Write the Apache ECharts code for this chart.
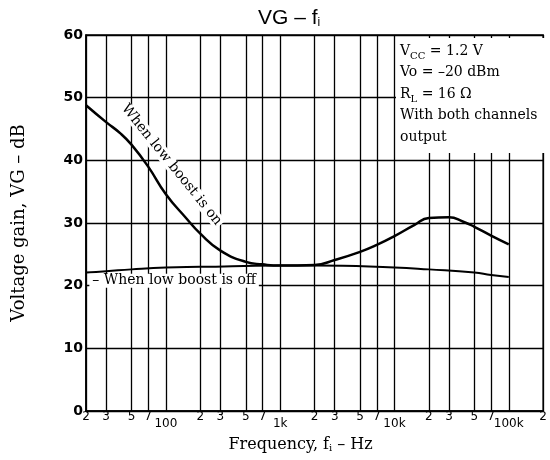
<!DOCTYPE html>
<html><head><meta charset="utf-8">
<script src="https://cdn.jsdelivr.net/npm/echarts@6/dist/echarts.min.js"></script>
<style>html,body{margin:0;padding:0;background:#fff}#c{width:550px;height:460px}</style>
</head><body><div id="c"></div>
<script>
const xTicks = [20,30,50,70,100,200,300,500,700,1000,2000,3000,5000,7000,10000,20000,30000,50000,70000,100000,200000];
const xTickLabels = ['2','3','5','7','100','2','3','5','7','1k','2','3','5','7','10k','2','3','5','7','100k','2'];
const yTicks = [0,10,20,30,40,50,60];
const freqOn = [20,30,40,50,70,100,150,200,300,500,700,1000,2000,3000,5000,7000,10000,15000,20000,30000,40000,50000,70000,100000];
const gainOn = [48.8,46.1,44.3,42.5,39.0,34.6,30.8,28.3,25.6,23.8,23.4,23.2,23.3,24.1,25.4,26.5,27.9,29.7,30.8,30.9,30.2,29.4,28.0,26.6];
const freqOff = [20,30,50,100,200,1000,2000,10000,20000,50000,70000,100000];
const gainOff = [22.1,22.3,22.6,22.9,23.0,23.2,23.2,22.9,22.6,22.1,21.7,21.4];
const labelOn = 'When low boost is on';
const labelOff = '– When low boost is off';

const serif = '"DejaVu Serif", "Liberation Serif", serif';
const sans = '"DejaVu Sans", "Liberation Sans", sans-serif';

function tickLabel(v) {
  for (let i = 0; i < xTicks.length; i++) {
    if (Math.abs(Math.log10(v) - Math.log10(xTicks[i])) < 1e-6) {
      const t = xTickLabels[i];
      return t.length > 1 ? '{d|' + t + '}' : '{n|' + t + '}';
    }
  }
  return '';
}

const chart = echarts.init(document.getElementById('c'), null, {renderer: 'canvas'});
chart.setOption({
  animation: false,
  backgroundColor: '#fff',
  title: {
    text: '{a|VG – f}{b|i}',
    left: 253, top: 3,
    textStyle: {
      rich: {
        a: {fontFamily: '"Liberation Sans", Arial, sans-serif', fontSize: 21, fontWeight: 'normal', color: '#000'},
        b: {fontFamily: '"Liberation Sans", Arial, sans-serif', fontSize: 12, fontWeight: 'normal', color: '#000', verticalAlign: 'bottom', padding: [9, 0, 0, 0]}
      }
    }
  },
  grid: {left: 86, right: 3, top: 35, bottom: 49, show: true, borderColor: '#000', borderWidth: 1.5, containLabel: false},
  xAxis: {
    type: 'log', logBase: 10, min: 20, max: 200000,
    name: '{n|Frequency, f}{s|i}{n| – Hz}',
    nameLocation: 'middle', nameGap: 25,
    nameTextStyle: {
      padding: [0, 28, 0, 0],
      rich: {
        n: {fontFamily: serif, fontSize: 16, color: '#000'},
        s: {fontFamily: serif, fontSize: 10, color: '#000', verticalAlign: 'bottom', padding: [7, 0, 0, 0]}
      }
    },
    axisLine: {show: true, lineStyle: {color: '#000', width: 1.5}},
    axisTick: {show: false, customValues: xTicks},
    splitLine: {show: true, lineStyle: {color: '#000', width: 1.3}},
    axisLabel: {
      customValues: xTicks,
      margin: 0,
      formatter: tickLabel,
      rich: {
        n: {fontFamily: sans, fontSize: 12, color: '#000'},
        d: {fontFamily: sans, fontSize: 12, color: '#000', padding: [7, 0, 0, 0]}
      }
    }
  },
  yAxis: {
    type: 'value', min: 0, max: 60, interval: 10,
    name: 'Voltage gain, VG – dB',
    nameLocation: 'middle', nameGap: 58,
    nameTextStyle: {fontFamily: serif, fontSize: 18, color: '#000'},
    axisLine: {show: true, lineStyle: {color: '#000', width: 1.5}},
    axisTick: {show: false},
    splitLine: {show: true, lineStyle: {color: '#000', width: 1.3}},
    axisLabel: {margin: 3, fontFamily: sans, fontSize: 14, fontWeight: 'bold', color: '#000',
      formatter: v => yTicks.includes(v) ? String(v) : ''}
  },
  graphic: [
    {type: 'rect', z: 50, shape: {x: 396, y: 38, width: 150, height: 115}, style: {fill: '#fff'}},
    {type: 'text', z: 51, left: 400, top: 44, style: {
      text: '{n|V}{s|CC}{n| = 1.2 V}\n{n|Vo = –20 dBm}\n{n|R}{s|L}{n| = 16 Ω}\n{n|With both channels}\n{n|output}',
      rich: {
        n: {fontFamily: serif, fontSize: 14, fill: '#000', lineHeight: 21.5},
        s: {fontFamily: serif, fontSize: 10, fill: '#000', lineHeight: 21.5, verticalAlign: 'bottom', padding: [7, 0, 0, 0]}
      }
    }}
  ],
  series: [
    {
      type: 'line', smooth: 0.5, showSymbol: false, z: 5,
      lineStyle: {color: '#000', width: 2.5},
      data: freqOn.map((f, i) => [f, gainOn[i]]),
      markPoint: {
        symbol: 'circle', symbolSize: 0,
        data: [{coord: [112, 39.3], value: 0}],
        label: {show: true, position: 'inside', formatter: labelOn, rotate: -51,
          fontFamily: serif, fontSize: 14, color: '#000', backgroundColor: '#fff', padding: [0, 2]}
      }
    },
    {
      type: 'line', smooth: 0.5, showSymbol: false, z: 5,
      lineStyle: {color: '#000', width: 2},
      data: freqOff.map((f, i) => [f, gainOff[i]]),
      markPoint: {
        symbol: 'circle', symbolSize: 0,
        data: [{coord: [118, 20.8], value: 0}],
        label: {show: true, position: 'inside', formatter: labelOff,
          fontFamily: serif, fontSize: 14, color: '#000', backgroundColor: '#fff', padding: [0, 3]}
      }
    }
  ]
});
</script>
</body></html>
